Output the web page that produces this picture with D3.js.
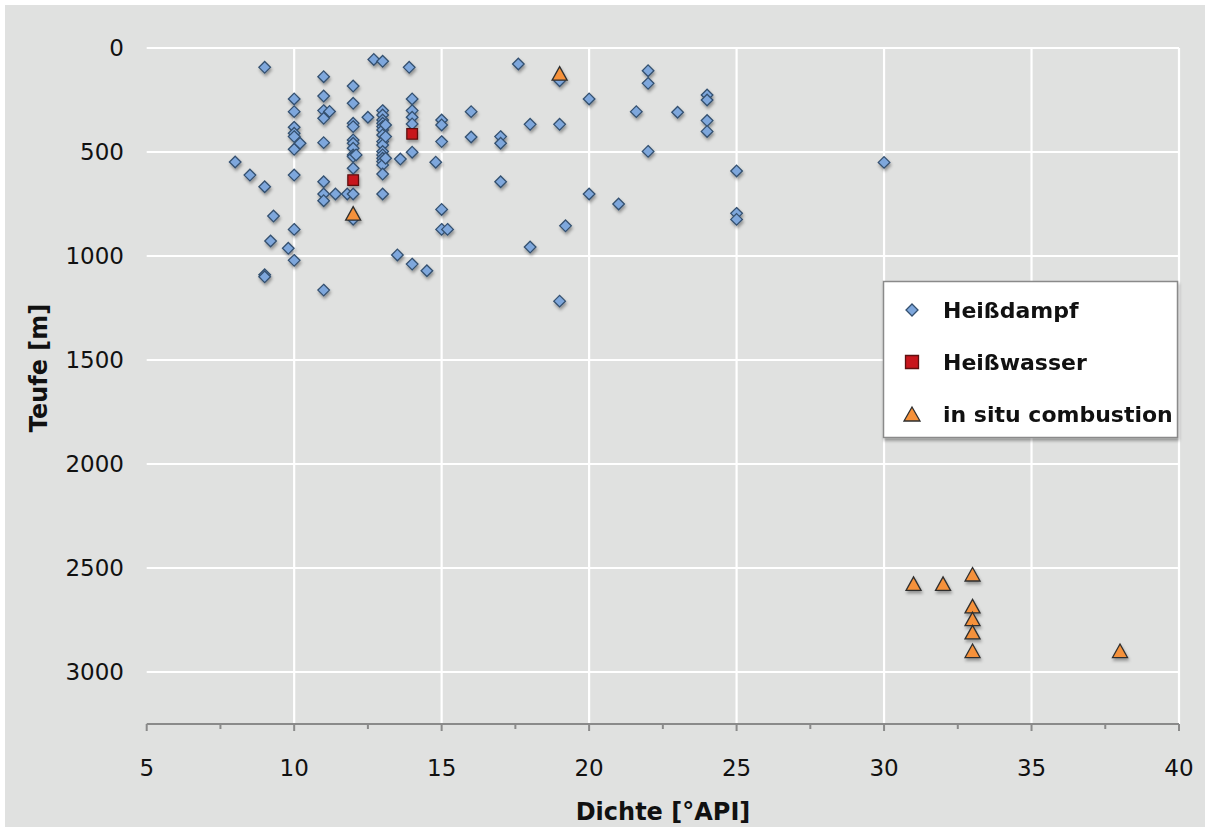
<!DOCTYPE html>
<html>
<head>
<meta charset="utf-8">
<script src="https://cdn.jsdelivr.net/npm/d3@7"></script>
<style>
  body { margin: 0; background: #ffffff; }
  text { font-family: "DejaVu Sans", Verdana, sans-serif; fill: #111; }
</style>
</head>
<body>
<div id="chart"></div>
<script>
// Heißdampf points: [API density, depth m]
var dampfData = [
    [8, 548], [8.5, 611],
    [9, 93], [9, 667], [9, 1090], [9, 1100],
    [9.2, 928], [9.3, 808], [9.8, 963],
    [10, 245], [10, 306], [10, 381], [10, 410], [10, 426], [10, 487], [10, 611], [10, 872], [10, 1021],
    [10.2, 458],
    [11, 138], [11, 231], [11, 301], [11, 338], [11, 455], [11, 643], [11, 702], [11, 734], [11, 1164],
    [11.2, 305], [11.4, 702], [11.8, 702],
    [12, 183], [12, 266], [12, 362], [12, 378], [12, 442], [12, 458], [12, 482], [12, 514], [12, 522], [12, 578], [12, 702], [12, 823],
    [12.1, 514], [12.5, 333], [12.7, 55],
    [13, 64], [13, 301], [13, 322], [13, 346], [13, 362], [13, 378], [13, 394], [13, 418], [13, 450], [13, 466],
    [13, 498], [13, 514], [13, 530], [13, 546], [13, 562], [13, 606], [13, 702],
    [13.1, 370], [13.1, 426], [13.1, 530],
    [13.5, 995], [13.6, 534], [13.9, 93],
    [14, 245], [14, 301], [14, 333], [14, 365], [14, 501], [14, 1039],
    [14.5, 1071], [14.8, 549],
    [15, 346], [15, 370], [15, 450], [15, 776], [15, 872], [15.2, 872],
    [16, 306], [16, 428],
    [17, 426], [17, 458], [17, 643], [17.6, 77],
    [18, 367], [18, 957],
    [19, 157], [19, 367], [19, 1217], [19.2, 855],
    [20, 245], [20, 702],
    [21, 750], [21.6, 306],
    [22, 109], [22, 170], [22, 497],
    [23, 309],
    [24, 226], [24, 250], [24, 349], [24, 401],
    [25, 591], [25, 795], [25, 824],
    [30, 550]
];

var wasserData = [[12, 635], [14, 413]];

var combustionData = [
    [12, 795], [19, 122],
    [31, 2575], [32, 2575],
    [33, 2530], [33, 2683], [33, 2745], [33, 2808], [33, 2898],
    [38, 2898]
];

var xTicks = [5, 10, 15, 20, 25, 30, 35, 40];
var xMinorTicks = [7.5, 12.5, 17.5, 22.5, 27.5, 32.5, 37.5];
var yTicks = [0, 500, 1000, 1500, 2000, 2500, 3000];
var seriesNames = ["Heißdampf", "Heißwasser", "in situ combustion"];

var W = 1210, H = 832;

var svg = d3.select("#chart")
    .append("svg")
    .attr("width", W)
    .attr("height", H);

var defs = svg.append("defs");
var shadow = defs.append("filter")
    .attr("id", "shadow")
    .attr("x", "-50%").attr("y", "-50%")
    .attr("width", "200%").attr("height", "200%");
shadow.append("feDropShadow")
    .attr("dx", 1).attr("dy", 2.5)
    .attr("stdDeviation", 1.6)
    .attr("flood-color", "#000")
    .attr("flood-opacity", 0.35);

// gray background
svg.append("rect")
    .attr("x", 5).attr("y", 5)
    .attr("width", W - 10).attr("height", H - 10)
    .attr("fill", "#e0e1e0");

var x = d3.scaleLinear().domain([5, 40]).range([146.7, 1179]);
var y = d3.scaleLinear().domain([0, 3250]).range([48, 724]);

// grid
var grid = svg.append("g").attr("class", "grid");
grid.selectAll("line.h")
    .data(yTicks).enter().append("line")
    .attr("class", "h")
    .attr("x1", x(5)).attr("x2", x(40))
    .attr("y1", function(d) { return y(d); })
    .attr("y2", function(d) { return y(d); })
    .attr("stroke", "#fff").attr("stroke-width", 2.2);
grid.selectAll("line.v")
    .data(xTicks.slice(1)).enter().append("line")
    .attr("class", "v")
    .attr("y1", y(0)).attr("y2", y(3250))
    .attr("x1", function(d) { return x(d); })
    .attr("x2", function(d) { return x(d); })
    .attr("stroke", "#fff").attr("stroke-width", 2.2);

// x axis
var xAxis = svg.append("g")
    .attr("transform", "translate(0," + y(3250) + ")");
xAxis.append("line")
    .attr("x1", x(5)).attr("x2", x(40))
    .attr("stroke", "#8a8a8a").attr("stroke-width", 2);
xAxis.selectAll("line.maj")
    .data(xTicks).enter().append("line")
    .attr("class", "maj")
    .attr("x1", function(d) { return x(d); })
    .attr("x2", function(d) { return x(d); })
    .attr("y1", 0).attr("y2", 7)
    .attr("stroke", "#8a8a8a").attr("stroke-width", 2);
xAxis.selectAll("line.min")
    .data(xMinorTicks).enter().append("line")
    .attr("class", "min")
    .attr("x1", function(d) { return x(d); })
    .attr("x2", function(d) { return x(d); })
    .attr("y1", 0).attr("y2", 5)
    .attr("stroke", "#8a8a8a").attr("stroke-width", 2);
xAxis.selectAll("text")
    .data(xTicks).enter().append("text")
    .attr("x", function(d) { return x(d); })
    .attr("y", 52)
    .attr("text-anchor", "middle")
    .style("font-size", "23px")
    .text(function(d) { return d; });

// y labels
svg.append("g").selectAll("text")
    .data(yTicks).enter().append("text")
    .attr("x", 124)
    .attr("y", function(d) { return y(d); })
    .attr("dy", "0.35em")
    .attr("text-anchor", "end")
    .style("font-size", "23px")
    .text(function(d) { return d; });

// axis titles
svg.append("text")
    .attr("x", 663).attr("y", 820)
    .attr("text-anchor", "middle")
    .style("font-size", "24px").style("font-weight", "bold")
    .text("Dichte [°API]");
svg.append("text")
    .attr("transform", "translate(47,368) rotate(-90)")
    .attr("text-anchor", "middle")
    .style("font-size", "24px").style("font-weight", "bold")
    .text("Teufe [m]");

// marker shapes
function diamondPath(r) {
    return "M0," + (-r) + "L" + r + ",0L0," + r + "L" + (-r) + ",0Z";
}
function squarePath(s) {
    return "M" + (-s) + "," + (-s) + "H" + s + "V" + s + "H" + (-s) + "Z";
}
function trianglePath(w, h) {
    return "M0," + (-h / 2) + "L" + (w / 2) + "," + (h / 2) + "L" + (-w / 2) + "," + (h / 2) + "Z";
}

var styles = [
    { path: diamondPath(5.8), fill: "#7ea7dc", stroke: "#34506f" },
    { path: squarePath(5.3), fill: "#c8161d", stroke: "#5e1010" },
    { path: trianglePath(15, 13.5), fill: "#f5913a", stroke: "#2e2e2e" }
];

var points = svg.append("g").attr("filter", "url(#shadow)");

function drawSeries(data, st) {
    points.append("g").selectAll("path")
        .data(data).enter().append("path")
        .attr("d", st.path)
        .attr("transform", function(d) { return "translate(" + x(d[0]) + "," + y(d[1]) + ")"; })
        .attr("fill", st.fill)
        .attr("stroke", st.stroke)
        .attr("stroke-width", 1.3);
}

drawSeries(dampfData, styles[0]);
drawSeries(wasserData, styles[1]);
drawSeries(combustionData, styles[2]);

// legend
var legend = svg.append("g");
legend.append("rect")
    .attr("x", 883.5).attr("y", 281.5)
    .attr("width", 294).attr("height", 156)
    .attr("fill", "#fff")
    .attr("stroke", "#8a8a8a").attr("stroke-width", 1.5)
    .attr("filter", "url(#shadow)");

var legItem = legend.selectAll("g.item")
    .data(seriesNames).enter().append("g")
    .attr("class", "item")
    .attr("transform", function(d, i) { return "translate(912," + (310 + i * 52) + ")"; });
legItem.append("path")
    .attr("d", function(d, i) { return i === 0 ? diamondPath(6) : i === 1 ? squarePath(6.5) : trianglePath(16, 14); })
    .attr("fill", function(d, i) { return styles[i].fill; })
    .attr("stroke", function(d, i) { return styles[i].stroke; })
    .attr("stroke-width", 1.3);
legItem.append("text")
    .attr("x", 31)
    .attr("dy", "0.36em")
    .style("font-size", "22px").style("font-weight", "bold")
    .text(function(d) { return d; });
</script>
</body>
</html>
